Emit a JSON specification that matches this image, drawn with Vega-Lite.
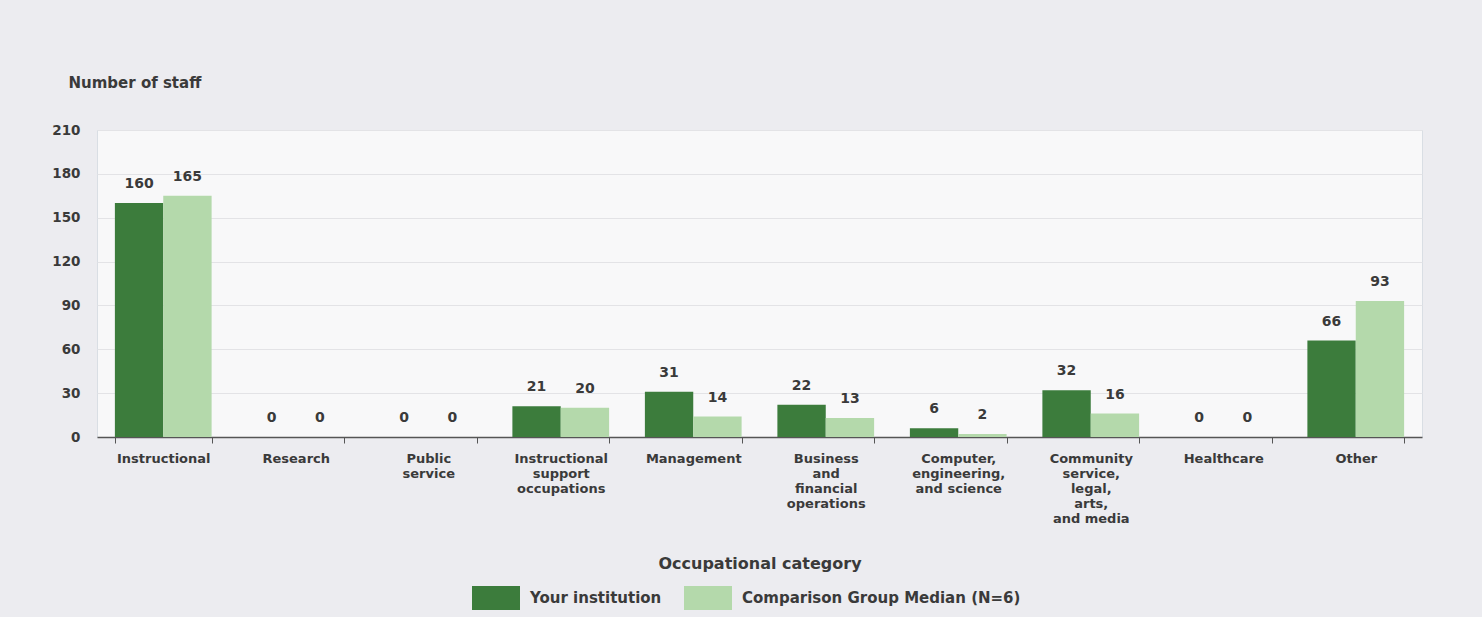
{
  "$schema": "https://vega.github.io/schema/vega-lite/v6.json",
  "width": 1325,
  "height": 307,
  "autosize": {"type": "none"},
  "padding": {"left": 97, "top": 130, "right": 60, "bottom": 180},
  "background": "#ececf0",
  "config": {
    "view": {"fill": "#f8f8f9", "stroke": "#d9dee4"},
    "font": "DejaVu Sans"
  },
  "data": {
    "values": [
      {"category": "Instructional", "group": "Your institution", "value": 160},
      {"category": "Instructional", "group": "Comparison Group Median (N=6)", "value": 165},
      {"category": "Research", "group": "Your institution", "value": 0},
      {"category": "Research", "group": "Comparison Group Median (N=6)", "value": 0},
      {"category": "Public|service", "group": "Your institution", "value": 0},
      {"category": "Public|service", "group": "Comparison Group Median (N=6)", "value": 0},
      {"category": "Instructional|support|occupations", "group": "Your institution", "value": 21},
      {"category": "Instructional|support|occupations", "group": "Comparison Group Median (N=6)", "value": 20},
      {"category": "Management", "group": "Your institution", "value": 31},
      {"category": "Management", "group": "Comparison Group Median (N=6)", "value": 14},
      {"category": "Business|and|financial|operations", "group": "Your institution", "value": 22},
      {"category": "Business|and|financial|operations", "group": "Comparison Group Median (N=6)", "value": 13},
      {"category": "Computer,|engineering,|and science", "group": "Your institution", "value": 6},
      {"category": "Computer,|engineering,|and science", "group": "Comparison Group Median (N=6)", "value": 2},
      {"category": "Community|service,|legal,|arts,|and media", "group": "Your institution", "value": 32},
      {"category": "Community|service,|legal,|arts,|and media", "group": "Comparison Group Median (N=6)", "value": 16},
      {"category": "Healthcare", "group": "Your institution", "value": 0},
      {"category": "Healthcare", "group": "Comparison Group Median (N=6)", "value": 0},
      {"category": "Other", "group": "Your institution", "value": 66},
      {"category": "Other", "group": "Comparison Group Median (N=6)", "value": 93}
    ]
  },
  "encoding": {
    "x": {
      "field": "category",
      "type": "nominal",
      "sort": null,
      "scale": {"paddingInner": 0.27, "paddingOuter": 0.135},
      "axis": {
        "title": "Occupational category",
        "titleFont": "DejaVu Sans",
        "titleFontSize": 16,
        "titleFontWeight": "bold",
        "titleColor": "#3a3a3a",
        "titleY": 126,
        "titleBaseline": "middle",
        "labelExpr": "split(datum.label, '|')",
        "labelAngle": 0,
        "labelFont": "DejaVu Sans",
        "labelFontSize": 13,
        "labelFontWeight": "bold",
        "labelColor": "#3a3a3a",
        "labelLineHeight": 15,
        "labelPadding": 9,
        "tickSize": 6,
        "tickBand": "extent",
        "tickColor": "#555555",
        "domainColor": "#555555",
        "domainWidth": 1.5,
        "grid": false
      }
    },
    "xOffset": {
      "field": "group",
      "type": "nominal",
      "sort": ["Your institution", "Comparison Group Median (N=6)"]
    },
    "y": {
      "field": "value",
      "type": "quantitative",
      "scale": {"domain": [0, 210]},
      "axis": {
        "values": [0, 30, 60, 90, 120, 150, 180, 210],
        "title": "Number of staff",
        "titleAngle": 0,
        "titleAlign": "left",
        "titleBaseline": "middle",
        "titleX": -29,
        "titleY": -48,
        "titleFont": "DejaVu Sans",
        "titleFontSize": 15,
        "titleFontWeight": "bold",
        "titleColor": "#3a3a3a",
        "labelFont": "DejaVu Sans",
        "labelFontSize": 13.5,
        "labelFontWeight": "bold",
        "labelColor": "#3a3a3a",
        "labelPadding": 17,
        "ticks": false,
        "domain": false,
        "gridColor": "#e3e3e6"
      }
    }
  },
  "layer": [
    {
      "mark": {"type": "bar"},
      "encoding": {
        "color": {
          "field": "group",
          "type": "nominal",
          "scale": {
            "domain": ["Your institution", "Comparison Group Median (N=6)"],
            "range": ["#3c7c3c", "#b4d9ab"]
          },
          "legend": {
            "orient": "none",
            "legendX": 375,
            "legendY": 444,
            "direction": "horizontal",
            "title": null,
            "symbolType": "M-1,-0.5H1V0.5H-1Z",
            "symbolSize": 2304,
            "symbolStrokeWidth": 0,
            "symbolOpacity": 1,
            "labelFont": "DejaVu Sans",
            "labelFontSize": 15,
            "labelFontWeight": "bold",
            "labelColor": "#3a3a3a",
            "labelLimit": 500,
            "labelOffset": 10,
            "columnPadding": 22
          }
        }
      }
    },
    {
      "mark": {
        "type": "text",
        "baseline": "bottom",
        "dy": -12,
        "font": "DejaVu Sans",
        "fontSize": 14,
        "fontWeight": "bold",
        "color": "#3a3a3a"
      },
      "encoding": {
        "text": {"field": "value", "type": "quantitative"}
      }
    }
  ]
}
